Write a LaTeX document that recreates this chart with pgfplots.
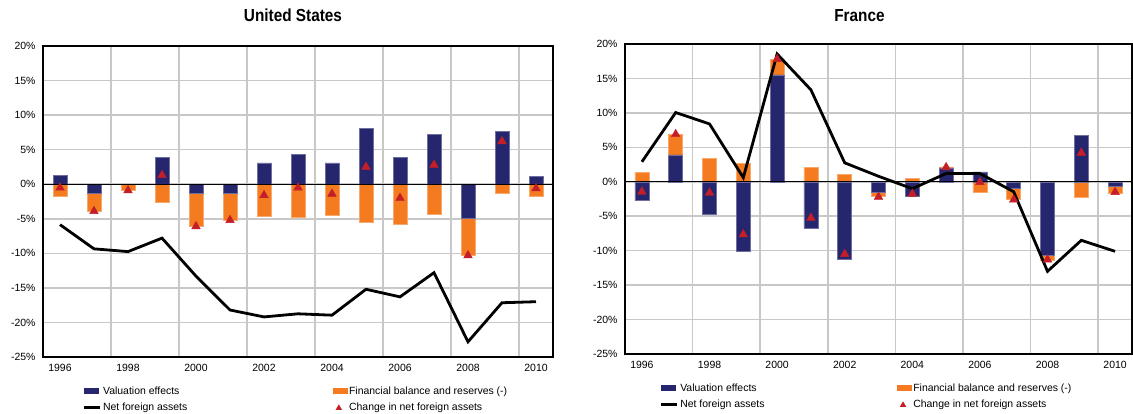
\documentclass[border=0pt]{standalone}
\usepackage{fontspec}
\setmainfont{Liberation Sans}
\newfontfamily\titlefont[FakeStretch=0.88]{Liberation Sans}
\usepackage{pgfplots}
\pgfplotsset{compat=1.18}
\definecolor{navy}{RGB}{38,38,110}
\definecolor{navyedge}{RGB}{110,110,160}
\definecolor{orng}{RGB}{244,123,32}
\definecolor{orngedge}{RGB}{248,170,110}
\definecolor{tri}{RGB}{196,30,40}
\definecolor{gridgray}{RGB}{200,200,200}

\pgfplotsset{
  panel/.style={
    scale only axis,
    anchor=south west,
    xmin=1995.5, xmax=2010.5, ymin=-25, ymax=20,
    xtick={1996,1998,2000,2002,2004,2006,2008,2010},
    xticklabels={1996,1998,2000,2002,2004,2006,2008,2010},
    minor xtick={1997.5,1999.5,2001.5,2003.5,2005.5,2007.5,2009.5},
    xminorgrids, ymajorgrids,
    ytick={-25,-20,-15,-10,-5,0,5,10,15,20},
    yticklabels={-25\%,-20\%,-15\%,-10\%,-5\%,0\%,5\%,10\%,15\%,20\%},
    major tick length=0pt, minor tick length=0pt,
    grid style={draw=gridgray, line width=1.5bp},
    minor grid style={draw=gridgray, line width=1.5bp},
    major grid style={draw=gridgray, line width=1.5bp},
    axis line style={line width=1.6bp},
    tick label style={font=\fontsize{10.5}{12}\selectfont},
    yticklabel style={xshift=-4bp},
    xticklabel style={yshift=-4bp},
    title style={font=\titlefont\bfseries\fontsize{17.5}{20}\selectfont, at={(0.5,1)}, anchor=base},
    legend columns=2,
    legend cell align=left,
    legend style={draw=none, fill=none, inner sep=0pt, outer sep=0pt, row sep=4bp,
      font=\fontsize{10.5}{12}\selectfont, anchor=north west, yshift=-28bp,
      nodes={inner sep=1.5bp}},
  },
  valbar/.style={ybar, bar width=14bp, bar shift=0pt, fill=navy, draw=navyedge, line width=0.5bp, forget plot},
  finbar/.style={ybar, bar width=14bp, bar shift=0pt, fill=orng, draw=orngedge, line width=0.5bp, forget plot},
  nfaline/.style={sharp plot, black, line width=2.8bp, no marks, forget plot},
  chg/.style={only marks, mark=triangle*, mark size=5bp, mark options={fill=tri, draw=tri}, forget plot},
  zeroline/.style={black, line width=0.9bp, forget plot, no marks, sharp plot},
  valleg/.style={legend image code/.code={\fill[navy, draw=none] (0bp,-3bp) rectangle (15bp,3bp);}},
  finleg/.style={legend image code/.code={\fill[orng, draw=none] (0bp,-3bp) rectangle (15bp,3bp);}},
  nfaleg/.style={legend image code/.code={\draw[black, line width=2.8bp] (0bp,0bp) -- (16bp,0bp);}},
  chgleg/.style={legend image code/.code={\path[draw=none, fill=none] (0bp,0bp) -- (15bp,0bp); \fill[tri, draw=none] (3bp,-2.8bp) -- (9.5bp,-2.8bp) -- (6.25bp,2.8bp) -- cycle;}},
}

\pgfplotstableread{
year val fin nfa chg
1996 1.3 -1.7 -5.85 -0.5
1997 -1.25 -3.85 -9.35 -3.9
1998 0 -0.8 -9.75 -0.9
1999 3.9 -2.55 -7.8 1.3
2000 -1.25 -6.1 -13.3 -6.1
2001 -1.25 -5.2 -18.2 -5.2
2002 3.1 -4.7 -19.2 -1.6
2003 4.3 -4.8 -18.75 -0.5
2004 3.1 -4.5 -18.95 -1.4
2005 8.1 -5.5 -15.2 2.5
2006 3.85 -5.8 -16.3 -2.0
2007 7.2 -4.3 -12.8 2.8
2008 -4.9 -10.3 -22.8 -10.3
2009 7.6 -1.35 -17.15 6.2
2010 1.15 -1.7 -17.0 -0.6
}\usdata

\pgfplotstableread{
year val fin nfa chg
1996 -2.75 1.35 2.9 -1.45
1997 3.9 6.9 10.05 6.9
1998 -4.7 3.4 8.4 -1.6
1999 -10.1 2.7 0.6 -7.65
2000 15.5 17.8 18.55 17.8
2001 -6.7 2.05 13.35 -5.25
2002 -11.2 1.05 2.75 -10.5
2003 -1.45 -2.1 0.8 -2.2
2004 -2.15 0.5 -1.0 -1.75
2005 2.0 2.15 1.2 2.1
2006 1.45 -1.45 1.2 -0.05
2007 -0.95 -2.55 -1.45 -2.6
2008 -10.6 -11.45 -13.0 -11.3
2009 6.75 -2.2 -8.5 4.2
2010 -0.65 -1.6 -10.1 -1.5
}\frdata

\begin{document}
\begin{tikzpicture}
\useasboundingbox (0,0) rectangle (1133bp,414bp);

\begin{axis}[panel, width=510bp, height=311bp, at={(43bp,57bp)},
  title={United States}, title style={xshift=-5bp, yshift=19bp},
  legend style={at={(0.078,0)}}]
\addplot[finbar] table[x=year,y=fin] {\usdata};
\addplot[valbar] table[x=year,y=val] {\usdata};
\addplot[zeroline] coordinates {(1995.5,0) (2010.5,0)};
\addplot[nfaline] table[x=year,y=nfa] {\usdata};
\addplot[chg] table[x=year,y=chg] {\usdata};
\addlegendimage{valleg}
\addlegendentry{\makebox[228bp][l]{Valuation effects}}
\addlegendimage{finleg}
\addlegendentry{Financial balance and reserves (-)}
\addlegendimage{nfaleg}
\addlegendentry{\makebox[228bp][l]{Net foreign assets}}
\addlegendimage{chgleg}
\addlegendentry{Change in net foreign assets}
\end{axis}

\begin{axis}[panel, width=507bp, height=310bp, at={(625bp,60bp)},
  title={France}, title style={xshift=-19bp, yshift=17bp},
  legend style={at={(0.069,0)}}]
\addplot[finbar] table[x=year,y=fin] {\frdata};
\addplot[valbar] table[x=year,y=val] {\frdata};
\addplot[zeroline] coordinates {(1995.5,0) (2010.5,0)};
\addplot[nfaline] table[x=year,y=nfa] {\frdata};
\addplot[chg] table[x=year,y=chg] {\frdata};
\addlegendimage{valleg}
\addlegendentry{\makebox[215bp][l]{Valuation effects}}
\addlegendimage{finleg}
\addlegendentry{Financial balance and reserves (-)}
\addlegendimage{nfaleg}
\addlegendentry{\makebox[215bp][l]{Net foreign assets}}
\addlegendimage{chgleg}
\addlegendentry{Change in net foreign assets}
\end{axis}
\end{tikzpicture}
\end{document}
